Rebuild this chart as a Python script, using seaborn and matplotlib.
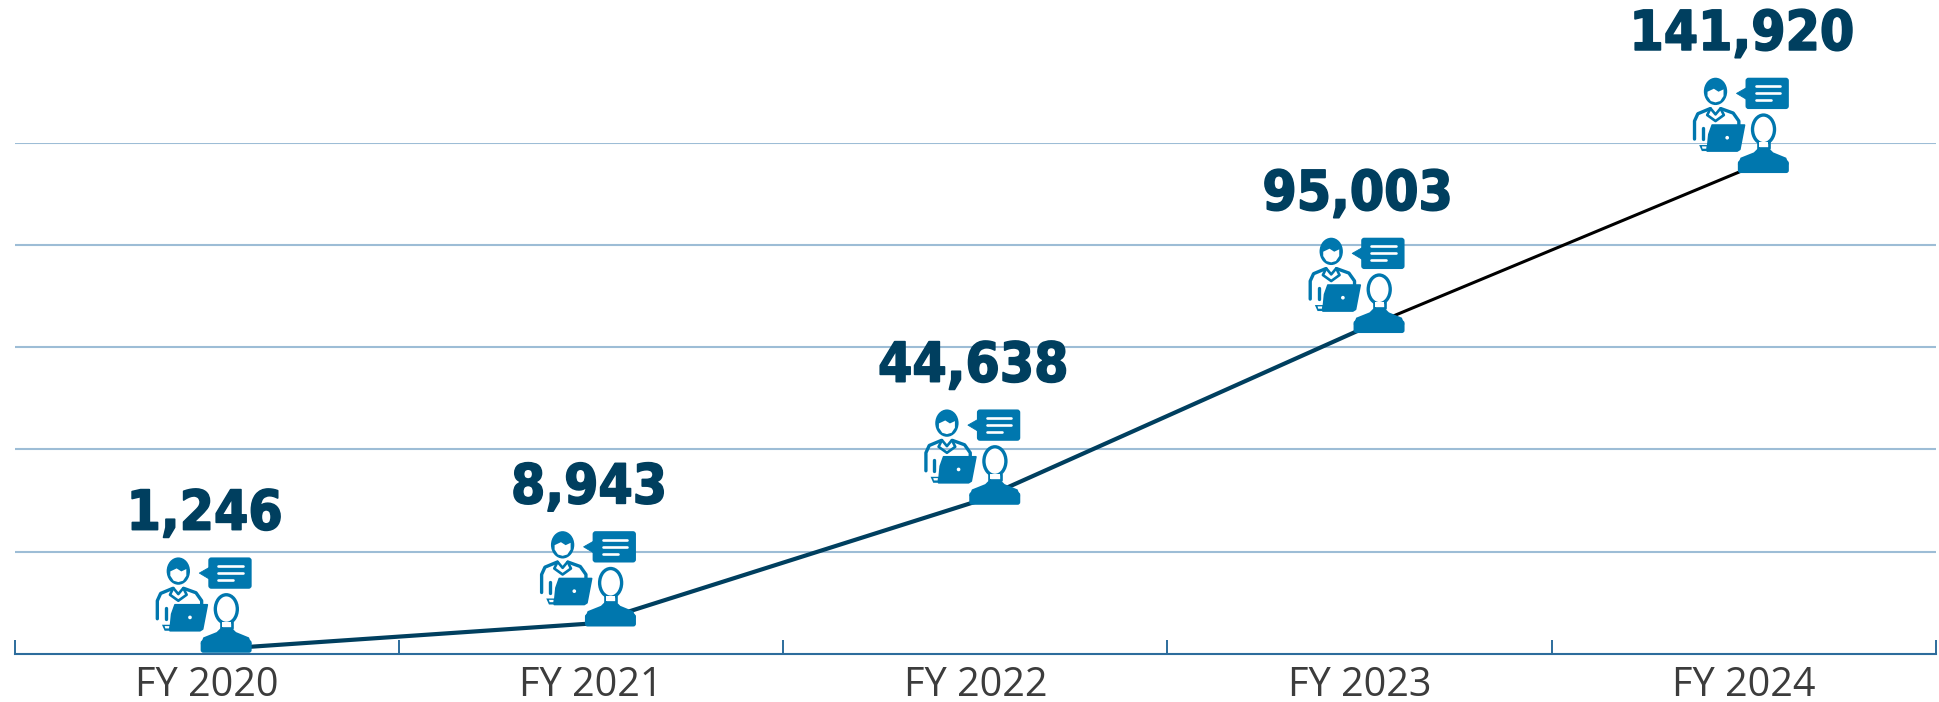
import matplotlib
matplotlib.use('Agg')

import matplotlib.patheffects as pe
import matplotlib.pyplot as plt
import numpy as np
import seaborn as sns
from matplotlib.patches import Ellipse, FancyBboxPatch, PathPatch, Polygon
from matplotlib.path import Path
from matplotlib.transforms import Affine2D

# data
fiscal_years = ['FY 2020', 'FY 2021', 'FY 2022', 'FY 2023', 'FY 2024']
users = [1246, 8943, 44638, 95003, 141920]
grid_values = [30000, 60000, 90000, 120000, 150000]

# colors
navy = '#003f5f'
blue = '#0077ae'
grid_color = '#9dbdd6'
axis_color = '#2c6c9c'
label_color = '#3c3c3c'

W, H = 1939, 702
sns.set_theme(style='white')

fig = plt.figure(figsize=(W / 100, H / 100), dpi=100)
ax = fig.add_axes([14.5 / W, 48 / H, 1921.5 / W, 511.5 / H])
ax.patch.set_alpha(0)

positions = np.arange(len(fiscal_years))

# line, last segment is thinner and black in the original
sns.lineplot(x=positions[:4], y=users[:4], color=navy, linewidth=3.0, ax=ax, zorder=3)
sns.lineplot(x=positions[3:], y=users[3:], color='black', linewidth=2.2, ax=ax, zorder=3)

ax.set_xlim(-0.5, len(fiscal_years) - 0.5)
ax.set_ylim(0, max(grid_values))

# axes
sns.despine(ax=ax, left=True)
ax.spines['bottom'].set_color(axis_color)
ax.spines['bottom'].set_linewidth(1.5)

ax.set_xticks(np.arange(-0.5, len(fiscal_years), 1))
ax.set_xticklabels([])
ax.set_xticks(positions, labels=fiscal_years, minor=True)
ax.tick_params(axis='x', which='major', direction='in', length=10, width=1.4,
               color=axis_color, bottom=True)
ax.tick_params(axis='x', which='minor', length=0, pad=8, labelsize=28.5, labelcolor=label_color)
for t in ax.get_xticklabels(minor=True):
    t.set_family('Open Sans')

ax.set_yticks(grid_values)
ax.set_yticklabels([])
ax.tick_params(axis='y', length=0)
ax.grid(axis='y', color=grid_color, linewidth=1.5)
ax.grid(axis='x', visible=False)
ax.set_axisbelow(True)
ax.set_xlabel('')
ax.set_ylabel('')


def draw_icon(x, y):
    # icon is sketched in its own units, 3 units per output pixel, y pointing down
    px, py = ax.transData.transform((x, y))
    tr = Affine2D().translate(-170, -297).scale(1 / 3, -1 / 3).translate(px, py)

    def add(patch):
        patch.set_transform(tr)
        patch.set_clip_on(False)
        patch.set_zorder(5)
        ax.add_patch(patch)

    def stroke(pts, color=blue, lw=2.4):
        add(PathPatch(Path(pts), fill=False, edgecolor=color, linewidth=lw,
                      capstyle='round', joinstyle='round'))

    # speech bubble
    add(FancyBboxPatch((183, 28), 114, 78, boxstyle='round,pad=8,rounding_size=9',
                       facecolor=blue, edgecolor='none'))
    add(Polygon([(178, 50), (148, 67), (178, 85)], closed=True, facecolor=blue,
                edgecolor=blue, linewidth=0.6, joinstyle='round'))
    stroke([(205, 45), (278, 45)], 'white', 1.9)
    stroke([(205, 66), (278, 66)], 'white', 1.9)
    stroke([(205, 87), (250, 87)], 'white', 1.9)

    # agent body
    stroke([(22, 204), (22, 150), (32, 128), (68, 113)])
    stroke([(102, 113), (138, 126), (155, 150), (155, 165)])
    stroke([(47, 172), (47, 205)])
    stroke([(70, 112), (60, 132), (85, 150), (110, 132), (100, 112)], lw=1.9)
    stroke([(70, 112), (85, 130), (100, 112)], lw=1.9)

    # agent head, hair on top
    add(Ellipse((85, 61), 70, 82, facecolor=blue, edgecolor='none'))
    add(Polygon([(61, 62), (80, 53), (94, 62), (109, 55), (109, 75), (99, 90),
                 (85, 94), (71, 90), (61, 75)], closed=True, facecolor='white', edgecolor='none'))

    # laptop
    add(Polygon([(75, 162), (172, 162), (158, 235), (150, 240), (60, 240), (65, 190)],
                closed=True, facecolor=blue, edgecolor=blue, linewidth=1.2, joinstyle='round'))
    add(Polygon([(36, 222), (62, 222), (60, 240), (44, 240)], closed=True, facecolor=blue,
                edgecolor='none'))
    add(Polygon([(44, 226), (58, 226), (57, 233), (46, 233)], closed=True, facecolor='white',
                edgecolor='none'))
    add(Ellipse((120, 200), 11, 11, facecolor='white', edgecolor='none'))

    # customer in front
    body = [(152, 280), (160, 260), (200, 244), (212, 232), (246, 232), (258, 244),
            (297, 260), (305, 280)]
    add(FancyBboxPatch((160, 276), 137, 22, boxstyle='round,pad=8,rounding_size=8',
                       facecolor=blue, edgecolor='none'))
    add(Polygon(body, closed=True, facecolor=blue, edgecolor='none'))
    add(Ellipse((229, 175), 66, 86, facecolor='white', edgecolor=blue, linewidth=2.4))
    stroke([(212, 214), (212, 232), (246, 232), (246, 214)], blue, 1.9)
    add(Polygon([(215, 214), (243, 214), (243, 229), (215, 229)], closed=True, facecolor='white',
                edgecolor='none'))


for x, n in zip(positions, users):
    draw_icon(x, n)
    ax.annotate(f'{n:,}', (x, n), xytext=(-1.5, 86.5), textcoords='offset points',
                ha='center', va='baseline', color=navy, fontsize=39.5, fontweight='bold',
                family='DejaVu Sans', stretch='condensed', zorder=6, annotation_clip=False,
                path_effects=[pe.withStroke(linewidth=1.2, foreground=navy)])

fig.savefig('out.png', dpi=100)
